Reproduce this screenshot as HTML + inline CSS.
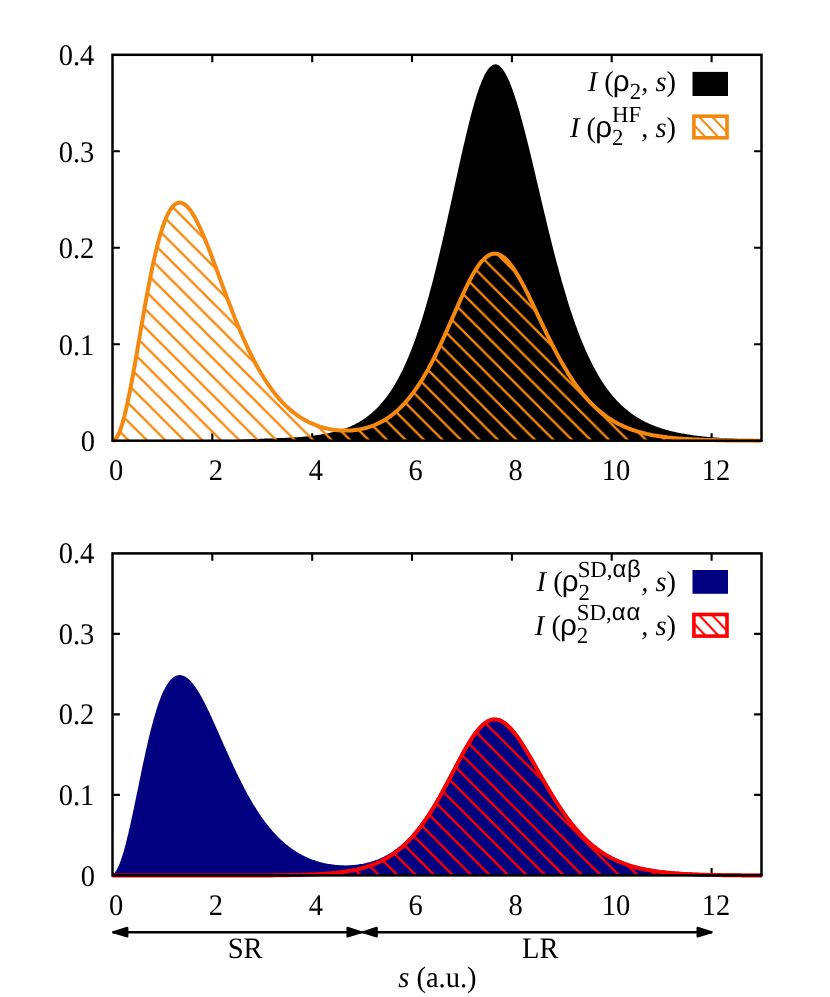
<!DOCTYPE html>
<html><head><meta charset="utf-8"><title>chart</title>
<style>
html,body{margin:0;padding:0;background:#fff;}
svg{display:block;will-change:transform;text-rendering:geometricPrecision;font-family:"Liberation Serif",serif;font-size:28.5px;fill:#000;}
.fr{fill:none;stroke:#000;stroke-width:2.5;stroke-linejoin:miter;}
.tk path{fill:none;stroke:#000;stroke-width:2.1;}
.it{font-style:italic;}
.sm{font-size:22.8px;}
.rho{font-family:"Liberation Sans",sans-serif;font-size:29.6px;}
.gk{font-family:"Liberation Sans",sans-serif;font-size:24px;}
</style></head><body>
<svg width="830" height="997" viewBox="0 0 830 997">
<defs>
<pattern id="ho" patternUnits="userSpaceOnUse" width="18.5" height="18.5" x="2.6" y="0">
<path d="M-5,-5 L23.5,23.5 M-5,13.5 L5,23.5 M13.5,-5 L23.5,5" stroke="#f5890f" stroke-width="2.3" fill="none"/>
</pattern>
<pattern id="hr" patternUnits="userSpaceOnUse" width="18.46" height="18.46" x="2.26" y="0">
<path d="M-5,-5 L23.46,23.46 M-5,13.46 L5,23.46 M13.46,-5 L23.46,5" stroke="#ff0000" stroke-width="2.3" fill="none"/>
</pattern>
<pattern id="lo" patternUnits="userSpaceOnUse" width="13" height="13.78" x="4.08" y="0">
<path d="M-5,-5.3 L18,19.08 M-5,8.48 L5,19.08 M8,-5.3 L18,5.3" stroke="#f5890f" stroke-width="2.1" fill="none"/>
</pattern>
<pattern id="lr" patternUnits="userSpaceOnUse" width="13" height="13.78" x="1.85" y="0">
<path d="M-5,-5.3 L18,19.08 M-5,8.48 L5,19.08 M8,-5.3 L18,5.3" stroke="#ff0000" stroke-width="2.1" fill="none"/>
</pattern>
</defs>
<rect width="830" height="997" fill="#fff"/>
<!-- top panel -->
<g class="tk"><path d="M212.3,440.7 v-7.4 M212.3,54.8 v7.4"/>
<path d="M312.2,440.7 v-7.4 M312.2,54.8 v7.4"/>
<path d="M412.0,440.7 v-7.4 M412.0,54.8 v7.4"/>
<path d="M511.9,440.7 v-7.4 M511.9,54.8 v7.4"/>
<path d="M611.7,440.7 v-7.4 M611.7,54.8 v7.4"/>
<path d="M711.6,440.7 v-7.4 M711.6,54.8 v7.4"/>
<path d="M112.5,344.2 h7.4 M761.5,344.2 h-7.4"/>
<path d="M112.5,247.8 h7.4 M761.5,247.8 h-7.4"/>
<path d="M112.5,151.3 h7.4 M761.5,151.3 h-7.4"/></g>
<path d="M112.5,440.8 L113.7,440.8 L115.0,440.8 L116.2,440.8 L117.5,440.8 L118.7,440.8 L120.0,440.8 L121.2,440.8 L122.5,440.8 L123.7,440.8 L125.0,440.8 L126.2,440.8 L127.5,440.8 L128.7,440.8 L130.0,440.8 L131.2,440.8 L132.5,440.8 L133.7,440.8 L135.0,440.8 L136.2,440.8 L137.5,440.8 L138.7,440.8 L140.0,440.8 L141.2,440.8 L142.5,440.8 L143.7,440.8 L144.9,440.8 L146.2,440.8 L147.4,440.8 L148.7,440.8 L149.9,440.8 L151.2,440.8 L152.4,440.8 L153.7,440.8 L154.9,440.8 L156.2,440.8 L157.4,440.8 L158.7,440.8 L159.9,440.8 L161.2,440.8 L162.4,440.8 L163.7,440.8 L164.9,440.8 L166.2,440.8 L167.4,440.8 L168.7,440.8 L169.9,440.8 L171.2,440.8 L172.4,440.8 L173.7,440.8 L174.9,440.8 L176.2,440.8 L177.4,440.8 L178.6,440.8 L179.9,440.8 L181.1,440.8 L182.4,440.8 L183.6,440.8 L184.9,440.7 L186.1,440.7 L187.4,440.7 L188.6,440.7 L189.9,440.7 L191.1,440.7 L192.4,440.7 L193.6,440.7 L194.9,440.7 L196.1,440.7 L197.4,440.7 L198.6,440.7 L199.9,440.7 L201.1,440.7 L202.4,440.7 L203.6,440.7 L204.9,440.7 L206.1,440.7 L207.4,440.7 L208.6,440.7 L209.9,440.7 L211.1,440.7 L212.3,440.7 L213.6,440.7 L214.8,440.7 L216.1,440.6 L217.3,440.6 L218.6,440.6 L219.8,440.6 L221.1,440.5 L222.3,440.5 L223.6,440.5 L224.8,440.4 L226.1,440.4 L227.3,440.4 L228.6,440.3 L229.8,440.3 L231.1,440.2 L232.3,440.2 L233.6,440.1 L234.8,440.1 L236.1,440.0 L237.3,439.9 L238.6,439.9 L239.8,439.8 L241.1,439.8 L242.3,439.7 L243.5,439.6 L244.8,439.6 L246.0,439.5 L247.3,439.4 L248.5,439.4 L249.8,439.3 L251.0,439.3 L252.3,439.2 L253.5,439.1 L254.8,439.1 L256.0,439.0 L257.3,439.0 L258.5,438.9 L259.8,438.8 L261.0,438.8 L262.3,438.7 L263.5,438.7 L264.8,438.6 L266.0,438.6 L267.3,438.5 L268.5,438.5 L269.8,438.4 L271.0,438.4 L272.3,438.4 L273.5,438.3 L274.8,438.3 L276.0,438.2 L277.2,438.2 L278.5,438.1 L279.7,438.1 L281.0,438.1 L282.2,438.0 L283.5,437.9 L284.7,437.9 L286.0,437.8 L287.2,437.8 L288.5,437.7 L289.7,437.6 L291.0,437.6 L292.2,437.5 L293.5,437.4 L294.7,437.3 L296.0,437.3 L297.2,437.2 L298.5,437.1 L299.7,437.0 L301.0,436.9 L302.2,436.8 L303.5,436.7 L304.7,436.6 L306.0,436.4 L307.2,436.3 L308.4,436.2 L309.7,436.1 L310.9,435.9 L312.2,435.8 L313.4,435.6 L314.7,435.5 L315.9,435.3 L317.2,435.1 L318.4,434.9 L319.7,434.7 L320.9,434.5 L322.2,434.3 L323.4,434.1 L324.7,433.9 L325.9,433.7 L327.2,433.4 L328.4,433.2 L329.7,432.9 L330.9,432.6 L332.2,432.3 L333.4,432.0 L334.7,431.7 L335.9,431.4 L337.2,431.1 L338.4,430.7 L339.6,430.3 L340.9,429.9 L342.1,429.5 L343.4,429.1 L344.6,428.7 L345.9,428.2 L347.1,427.7 L348.4,427.2 L349.6,426.7 L350.9,426.2 L352.1,425.6 L353.4,425.0 L354.6,424.4 L355.9,423.8 L357.1,423.1 L358.4,422.4 L359.6,421.7 L360.9,421.0 L362.1,420.2 L363.4,419.4 L364.6,418.5 L365.9,417.7 L367.1,416.7 L368.4,415.8 L369.6,414.8 L370.9,413.8 L372.1,412.7 L373.3,411.6 L374.6,410.5 L375.8,409.3 L377.1,408.0 L378.3,406.7 L379.6,405.4 L380.8,404.0 L382.1,402.6 L383.3,401.1 L384.6,399.5 L385.8,397.9 L387.1,396.2 L388.3,394.5 L389.6,392.7 L390.8,390.9 L392.1,389.0 L393.3,387.0 L394.6,384.9 L395.8,382.8 L397.1,380.6 L398.3,378.3 L399.6,376.0 L400.8,373.6 L402.1,371.1 L403.3,368.5 L404.6,365.8 L405.8,363.1 L407.0,360.2 L408.3,357.3 L409.5,354.3 L410.8,351.2 L412.0,348.0 L413.3,344.7 L414.5,341.3 L415.8,337.9 L417.0,334.3 L418.3,330.6 L419.5,326.9 L420.8,323.0 L422.0,319.0 L423.3,315.0 L424.5,310.8 L425.8,306.6 L427.0,302.2 L428.3,297.8 L429.5,293.2 L430.8,288.6 L432.0,283.9 L433.3,279.0 L434.5,274.1 L435.8,269.1 L437.0,264.0 L438.2,258.9 L439.5,253.6 L440.7,248.3 L442.0,243.0 L443.2,237.5 L444.5,232.0 L445.7,226.5 L447.0,220.9 L448.2,215.2 L449.5,209.6 L450.7,203.9 L452.0,198.2 L453.2,192.4 L454.5,186.7 L455.7,181.0 L457.0,175.3 L458.2,169.6 L459.5,163.9 L460.7,158.3 L462.0,152.8 L463.2,147.3 L464.5,141.9 L465.7,136.6 L467.0,131.3 L468.2,126.2 L469.4,121.3 L470.7,116.4 L471.9,111.7 L473.2,107.2 L474.4,102.8 L475.7,98.6 L476.9,94.6 L478.2,90.8 L479.4,87.2 L480.7,83.9 L481.9,80.8 L483.2,77.9 L484.4,75.3 L485.7,73.0 L486.9,70.9 L488.2,69.1 L489.4,67.6 L490.7,66.4 L491.9,65.4 L493.2,64.8 L494.4,64.4 L495.7,64.3 L496.9,64.6 L498.2,65.1 L499.4,65.8 L500.7,66.9 L501.9,68.3 L503.1,69.9 L504.4,71.7 L505.6,73.9 L506.9,76.2 L508.1,78.8 L509.4,81.6 L510.6,84.7 L511.9,87.9 L513.1,91.4 L514.4,95.0 L515.6,98.9 L516.9,102.8 L518.1,107.0 L519.4,111.3 L520.6,115.7 L521.9,120.2 L523.1,124.9 L524.4,129.7 L525.6,134.5 L526.9,139.5 L528.1,144.5 L529.4,149.6 L530.6,154.7 L531.9,159.9 L533.1,165.2 L534.4,170.4 L535.6,175.7 L536.8,181.0 L538.1,186.3 L539.3,191.6 L540.6,197.0 L541.8,202.3 L543.1,207.5 L544.3,212.8 L545.6,218.0 L546.8,223.2 L548.1,228.4 L549.3,233.5 L550.6,238.5 L551.8,243.5 L553.1,248.5 L554.3,253.4 L555.6,258.2 L556.8,262.9 L558.1,267.6 L559.3,272.2 L560.6,276.7 L561.8,281.2 L563.1,285.5 L564.3,289.8 L565.6,294.0 L566.8,298.2 L568.0,302.2 L569.3,306.2 L570.5,310.0 L571.8,313.8 L573.0,317.5 L574.3,321.1 L575.5,324.7 L576.8,328.1 L578.0,331.5 L579.3,334.8 L580.5,338.0 L581.8,341.1 L583.0,344.1 L584.3,347.1 L585.5,350.0 L586.8,352.8 L588.0,355.5 L589.3,358.1 L590.5,360.7 L591.8,363.2 L593.0,365.7 L594.3,368.0 L595.5,370.3 L596.8,372.6 L598.0,374.7 L599.2,376.8 L600.5,378.9 L601.7,380.9 L603.0,382.8 L604.2,384.7 L605.5,386.5 L606.7,388.2 L608.0,389.9 L609.2,391.6 L610.5,393.2 L611.7,394.7 L613.0,396.2 L614.2,397.6 L615.5,399.0 L616.7,400.4 L618.0,401.7 L619.2,403.0 L620.5,404.2 L621.7,405.4 L623.0,406.6 L624.2,407.7 L625.5,408.8 L626.7,409.8 L628.0,410.8 L629.2,411.8 L630.5,412.7 L631.7,413.7 L632.9,414.5 L634.2,415.4 L635.4,416.2 L636.7,417.0 L637.9,417.8 L639.2,418.5 L640.4,419.3 L641.7,420.0 L642.9,420.6 L644.2,421.3 L645.4,421.9 L646.7,422.5 L647.9,423.1 L649.2,423.7 L650.4,424.2 L651.7,424.8 L652.9,425.3 L654.2,425.8 L655.4,426.3 L656.7,426.7 L657.9,427.2 L659.2,427.6 L660.4,428.0 L661.7,428.4 L662.9,428.8 L664.1,429.2 L665.4,429.6 L666.6,429.9 L667.9,430.3 L669.1,430.6 L670.4,430.9 L671.6,431.2 L672.9,431.5 L674.1,431.8 L675.4,432.1 L676.6,432.4 L677.9,432.6 L679.1,432.9 L680.4,433.1 L681.6,433.4 L682.9,433.6 L684.1,433.8 L685.4,434.0 L686.6,434.3 L687.9,434.5 L689.1,434.6 L690.4,434.8 L691.6,435.0 L692.9,435.2 L694.1,435.4 L695.4,435.5 L696.6,435.7 L697.8,435.8 L699.1,436.0 L700.3,436.1 L701.6,436.3 L702.8,436.4 L704.1,436.5 L705.3,436.7 L706.6,436.8 L707.8,436.9 L709.1,437.0 L710.3,437.1 L711.6,437.2 L712.8,437.3 L714.1,437.4 L715.3,437.5 L716.6,437.6 L717.8,437.7 L719.1,437.8 L720.3,437.9 L721.6,438.0 L722.8,438.1 L724.1,438.2 L725.3,438.2 L726.6,438.3 L727.8,438.4 L729.1,438.4 L730.3,438.5 L731.5,438.6 L732.8,438.6 L734.0,438.7 L735.3,438.8 L736.5,438.8 L737.8,438.9 L739.0,438.9 L740.3,439.0 L741.5,439.0 L742.8,439.1 L744.0,439.1 L745.3,439.2 L746.5,439.2 L747.8,439.3 L749.0,439.3 L750.3,439.3 L751.5,439.4 L752.8,439.4 L754.0,439.5 L755.3,439.5 L756.5,439.5 L757.8,439.6 L759.0,439.6 L760.3,439.6 L761.5,439.7 L761.5,440.8 L112.5,440.8 Z" fill="#000" stroke="none"/>
<path d="M112.5,440.8 L113.7,440.5 L115.0,439.7 L116.2,438.2 L117.5,436.2 L118.7,433.7 L120.0,430.7 L121.2,427.1 L122.5,423.1 L123.7,418.7 L125.0,413.8 L126.2,408.5 L127.5,402.9 L128.7,396.9 L130.0,390.7 L131.2,384.2 L132.5,377.5 L133.7,370.6 L135.0,363.6 L136.2,356.4 L137.5,349.2 L138.7,342.0 L140.0,334.7 L141.2,327.4 L142.5,320.2 L143.7,313.0 L144.9,306.0 L146.2,299.1 L147.4,292.3 L148.7,285.6 L149.9,279.2 L151.2,273.0 L152.4,266.9 L153.7,261.1 L154.9,255.6 L156.2,250.3 L157.4,245.2 L158.7,240.5 L159.9,236.0 L161.2,231.8 L162.4,227.8 L163.7,224.2 L164.9,220.9 L166.2,217.8 L167.4,215.0 L168.7,212.6 L169.9,210.4 L171.2,208.5 L172.4,206.8 L173.7,205.5 L174.9,204.4 L176.2,203.6 L177.4,203.0 L178.6,202.7 L179.9,202.6 L181.1,202.8 L182.4,203.2 L183.6,203.8 L184.9,204.6 L186.1,205.6 L187.4,206.8 L188.6,208.2 L189.9,209.7 L191.1,211.5 L192.4,213.4 L193.6,215.4 L194.9,217.6 L196.1,219.9 L197.4,222.3 L198.6,224.8 L199.9,227.5 L201.1,230.2 L202.4,233.1 L203.6,236.0 L204.9,239.0 L206.1,242.0 L207.4,245.2 L208.6,248.3 L209.9,251.6 L211.1,254.8 L212.3,258.1 L213.6,261.4 L214.8,264.8 L216.1,268.2 L217.3,271.5 L218.6,274.9 L219.8,278.3 L221.1,281.7 L222.3,285.1 L223.6,288.5 L224.8,291.8 L226.1,295.2 L227.3,298.5 L228.6,301.8 L229.8,305.1 L231.1,308.3 L232.3,311.5 L233.6,314.7 L234.8,317.9 L236.1,321.0 L237.3,324.0 L238.6,327.0 L239.8,330.0 L241.1,333.0 L242.3,335.8 L243.5,338.7 L244.8,341.5 L246.0,344.2 L247.3,346.9 L248.5,349.6 L249.8,352.2 L251.0,354.7 L252.3,357.2 L253.5,359.6 L254.8,362.0 L256.0,364.4 L257.3,366.7 L258.5,368.9 L259.8,371.1 L261.0,373.2 L262.3,375.3 L263.5,377.3 L264.8,379.3 L266.0,381.2 L267.3,383.1 L268.5,385.0 L269.8,386.7 L271.0,388.5 L272.3,390.2 L273.5,391.8 L274.8,393.4 L276.0,395.0 L277.2,396.5 L278.5,397.9 L279.7,399.4 L281.0,400.7 L282.2,402.1 L283.5,403.4 L284.7,404.6 L286.0,405.9 L287.2,407.0 L288.5,408.2 L289.7,409.3 L291.0,410.4 L292.2,411.4 L293.5,412.4 L294.7,413.4 L296.0,414.3 L297.2,415.2 L298.5,416.1 L299.7,416.9 L301.0,417.7 L302.2,418.5 L303.5,419.2 L304.7,420.0 L306.0,420.6 L307.2,421.3 L308.4,421.9 L309.7,422.6 L310.9,423.1 L312.2,423.7 L313.4,424.2 L314.7,424.7 L315.9,425.2 L317.2,425.7 L318.4,426.1 L319.7,426.6 L320.9,427.0 L322.2,427.3 L323.4,427.7 L324.7,428.0 L325.9,428.3 L327.2,428.6 L328.4,428.9 L329.7,429.1 L330.9,429.4 L332.2,429.6 L333.4,429.8 L334.7,429.9 L335.9,430.1 L337.2,430.2 L338.4,430.3 L339.6,430.4 L340.9,430.5 L342.1,430.6 L343.4,430.6 L344.6,430.6 L345.9,430.6 L347.1,430.6 L348.4,430.6 L349.6,430.5 L350.9,430.4 L352.1,430.4 L353.4,430.2 L354.6,430.1 L355.9,430.0 L357.1,429.8 L358.4,429.6 L359.6,429.4 L360.9,429.1 L362.1,428.9 L363.4,428.6 L364.6,428.3 L365.9,428.0 L367.1,427.6 L368.4,427.2 L369.6,426.8 L370.9,426.4 L372.1,426.0 L373.3,425.5 L374.6,425.0 L375.8,424.5 L377.1,423.9 L378.3,423.3 L379.6,422.7 L380.8,422.1 L382.1,421.4 L383.3,420.7 L384.6,420.0 L385.8,419.2 L387.1,418.4 L388.3,417.6 L389.6,416.7 L390.8,415.8 L392.1,414.9 L393.3,413.9 L394.6,412.9 L395.8,411.8 L397.1,410.7 L398.3,409.6 L399.6,408.4 L400.8,407.2 L402.1,406.0 L403.3,404.7 L404.6,403.3 L405.8,401.9 L407.0,400.5 L408.3,399.0 L409.5,397.5 L410.8,395.9 L412.0,394.3 L413.3,392.7 L414.5,390.9 L415.8,389.2 L417.0,387.4 L418.3,385.5 L419.5,383.6 L420.8,381.7 L422.0,379.7 L423.3,377.6 L424.5,375.5 L425.8,373.4 L427.0,371.2 L428.3,368.9 L429.5,366.6 L430.8,364.3 L432.0,361.9 L433.3,359.5 L434.5,357.0 L435.8,354.5 L437.0,351.9 L438.2,349.3 L439.5,346.7 L440.7,344.0 L442.0,341.4 L443.2,338.6 L444.5,335.9 L445.7,333.1 L447.0,330.3 L448.2,327.5 L449.5,324.7 L450.7,321.8 L452.0,319.0 L453.2,316.1 L454.5,313.2 L455.7,310.4 L457.0,307.6 L458.2,304.7 L459.5,301.9 L460.7,299.1 L462.0,296.4 L463.2,293.7 L464.5,291.0 L465.7,288.4 L467.0,285.8 L468.2,283.3 L469.4,280.8 L470.7,278.5 L471.9,276.1 L473.2,273.9 L474.4,271.8 L475.7,269.7 L476.9,267.8 L478.2,266.0 L479.4,264.2 L480.7,262.6 L481.9,261.1 L483.2,259.8 L484.4,258.6 L485.7,257.5 L486.9,256.5 L488.2,255.7 L489.4,255.0 L490.7,254.4 L491.9,254.0 L493.2,253.8 L494.4,253.7 L495.7,253.7 L496.9,253.9 L498.2,254.2 L499.4,254.7 L500.7,255.3 L501.9,256.0 L503.1,256.8 L504.4,257.8 L505.6,258.9 L506.9,260.2 L508.1,261.5 L509.4,263.0 L510.6,264.6 L511.9,266.2 L513.1,268.0 L514.4,269.8 L515.6,271.8 L516.9,273.8 L518.1,275.9 L519.4,278.0 L520.6,280.3 L521.9,282.6 L523.1,284.9 L524.4,287.3 L525.6,289.7 L526.9,292.2 L528.1,294.7 L529.4,297.3 L530.6,299.8 L531.9,302.4 L533.1,305.0 L534.4,307.7 L535.6,310.3 L536.8,312.9 L538.1,315.6 L539.3,318.2 L540.6,320.8 L541.8,323.5 L543.1,326.1 L544.3,328.7 L545.6,331.3 L546.8,333.9 L548.1,336.4 L549.3,338.9 L550.6,341.4 L551.8,343.9 L553.1,346.4 L554.3,348.8 L555.6,351.2 L556.8,353.5 L558.1,355.9 L559.3,358.1 L560.6,360.4 L561.8,362.6 L563.1,364.8 L564.3,366.9 L565.6,369.0 L566.8,371.1 L568.0,373.1 L569.3,375.1 L570.5,377.0 L571.8,378.9 L573.0,380.8 L574.3,382.6 L575.5,384.4 L576.8,386.1 L578.0,387.8 L579.3,389.5 L580.5,391.1 L581.8,392.7 L583.0,394.2 L584.3,395.7 L585.5,397.2 L586.8,398.6 L588.0,400.0 L589.3,401.3 L590.5,402.7 L591.8,403.9 L593.0,405.2 L594.3,406.4 L595.5,407.6 L596.8,408.7 L598.0,409.8 L599.2,410.9 L600.5,411.9 L601.7,412.9 L603.0,413.9 L604.2,414.9 L605.5,415.8 L606.7,416.7 L608.0,417.6 L609.2,418.4 L610.5,419.2 L611.7,420.0 L613.0,420.8 L614.2,421.5 L615.5,422.2 L616.7,422.9 L618.0,423.6 L619.2,424.2 L620.5,424.8 L621.7,425.4 L623.0,426.0 L624.2,426.6 L625.5,427.1 L626.7,427.6 L628.0,428.1 L629.2,428.6 L630.5,429.1 L631.7,429.6 L632.9,430.0 L634.2,430.4 L635.4,430.8 L636.7,431.2 L637.9,431.6 L639.2,432.0 L640.4,432.3 L641.7,432.6 L642.9,433.0 L644.2,433.3 L645.4,433.6 L646.7,433.9 L647.9,434.1 L649.2,434.4 L650.4,434.7 L651.7,434.9 L652.9,435.2 L654.2,435.4 L655.4,435.6 L656.7,435.8 L657.9,436.0 L659.2,436.2 L660.4,436.4 L661.7,436.6 L662.9,436.8 L664.1,436.9 L665.4,437.1 L666.6,437.3 L667.9,437.4 L669.1,437.6 L670.4,437.7 L671.6,437.8 L672.9,437.9 L674.1,438.1 L675.4,438.2 L676.6,438.3 L677.9,438.4 L679.1,438.5 L680.4,438.6 L681.6,438.7 L682.9,438.8 L684.1,438.9 L685.4,439.0 L686.6,439.0 L687.9,439.1 L689.1,439.2 L690.4,439.3 L691.6,439.3 L692.9,439.4 L694.1,439.5 L695.4,439.5 L696.6,439.6 L697.8,439.6 L699.1,439.7 L700.3,439.7 L701.6,439.8 L702.8,439.8 L704.1,439.9 L705.3,439.9 L706.6,439.9 L707.8,440.0 L709.1,440.0 L710.3,440.1 L711.6,440.1 L712.8,440.1 L714.1,440.1 L715.3,440.2 L716.6,440.2 L717.8,440.2 L719.1,440.3 L720.3,440.3 L721.6,440.3 L722.8,440.3 L724.1,440.3 L725.3,440.4 L726.6,440.4 L727.8,440.4 L729.1,440.4 L730.3,440.4 L731.5,440.5 L732.8,440.5 L734.0,440.5 L735.3,440.5 L736.5,440.5 L737.8,440.5 L739.0,440.5 L740.3,440.6 L741.5,440.6 L742.8,440.6 L744.0,440.6 L745.3,440.6 L746.5,440.6 L747.8,440.6 L749.0,440.6 L750.3,440.6 L751.5,440.6 L752.8,440.6 L754.0,440.7 L755.3,440.7 L756.5,440.7 L757.8,440.7 L759.0,440.7 L760.3,440.7 L761.5,440.7 L761.5,440.8 L112.5,440.8 Z" fill="url(#ho)" stroke="none"/>
<path d="M112.5,440.8 L113.7,440.5 L115.0,439.7 L116.2,438.2 L117.5,436.2 L118.7,433.7 L120.0,430.7 L121.2,427.1 L122.5,423.1 L123.7,418.7 L125.0,413.8 L126.2,408.5 L127.5,402.9 L128.7,396.9 L130.0,390.7 L131.2,384.2 L132.5,377.5 L133.7,370.6 L135.0,363.6 L136.2,356.4 L137.5,349.2 L138.7,342.0 L140.0,334.7 L141.2,327.4 L142.5,320.2 L143.7,313.0 L144.9,306.0 L146.2,299.1 L147.4,292.3 L148.7,285.6 L149.9,279.2 L151.2,273.0 L152.4,266.9 L153.7,261.1 L154.9,255.6 L156.2,250.3 L157.4,245.2 L158.7,240.5 L159.9,236.0 L161.2,231.8 L162.4,227.8 L163.7,224.2 L164.9,220.9 L166.2,217.8 L167.4,215.0 L168.7,212.6 L169.9,210.4 L171.2,208.5 L172.4,206.8 L173.7,205.5 L174.9,204.4 L176.2,203.6 L177.4,203.0 L178.6,202.7 L179.9,202.6 L181.1,202.8 L182.4,203.2 L183.6,203.8 L184.9,204.6 L186.1,205.6 L187.4,206.8 L188.6,208.2 L189.9,209.7 L191.1,211.5 L192.4,213.4 L193.6,215.4 L194.9,217.6 L196.1,219.9 L197.4,222.3 L198.6,224.8 L199.9,227.5 L201.1,230.2 L202.4,233.1 L203.6,236.0 L204.9,239.0 L206.1,242.0 L207.4,245.2 L208.6,248.3 L209.9,251.6 L211.1,254.8 L212.3,258.1 L213.6,261.4 L214.8,264.8 L216.1,268.2 L217.3,271.5 L218.6,274.9 L219.8,278.3 L221.1,281.7 L222.3,285.1 L223.6,288.5 L224.8,291.8 L226.1,295.2 L227.3,298.5 L228.6,301.8 L229.8,305.1 L231.1,308.3 L232.3,311.5 L233.6,314.7 L234.8,317.9 L236.1,321.0 L237.3,324.0 L238.6,327.0 L239.8,330.0 L241.1,333.0 L242.3,335.8 L243.5,338.7 L244.8,341.5 L246.0,344.2 L247.3,346.9 L248.5,349.6 L249.8,352.2 L251.0,354.7 L252.3,357.2 L253.5,359.6 L254.8,362.0 L256.0,364.4 L257.3,366.7 L258.5,368.9 L259.8,371.1 L261.0,373.2 L262.3,375.3 L263.5,377.3 L264.8,379.3 L266.0,381.2 L267.3,383.1 L268.5,385.0 L269.8,386.7 L271.0,388.5 L272.3,390.2 L273.5,391.8 L274.8,393.4 L276.0,395.0 L277.2,396.5 L278.5,397.9 L279.7,399.4 L281.0,400.7 L282.2,402.1 L283.5,403.4 L284.7,404.6 L286.0,405.9 L287.2,407.0 L288.5,408.2 L289.7,409.3 L291.0,410.4 L292.2,411.4 L293.5,412.4 L294.7,413.4 L296.0,414.3 L297.2,415.2 L298.5,416.1 L299.7,416.9 L301.0,417.7 L302.2,418.5 L303.5,419.2 L304.7,420.0 L306.0,420.6 L307.2,421.3 L308.4,421.9 L309.7,422.6 L310.9,423.1 L312.2,423.7 L313.4,424.2 L314.7,424.7 L315.9,425.2 L317.2,425.7 L318.4,426.1 L319.7,426.6 L320.9,427.0 L322.2,427.3 L323.4,427.7 L324.7,428.0 L325.9,428.3 L327.2,428.6 L328.4,428.9 L329.7,429.1 L330.9,429.4 L332.2,429.6 L333.4,429.8 L334.7,429.9 L335.9,430.1 L337.2,430.2 L338.4,430.3 L339.6,430.4 L340.9,430.5 L342.1,430.6 L343.4,430.6 L344.6,430.6 L345.9,430.6 L347.1,430.6 L348.4,430.6 L349.6,430.5 L350.9,430.4 L352.1,430.4 L353.4,430.2 L354.6,430.1 L355.9,430.0 L357.1,429.8 L358.4,429.6 L359.6,429.4 L360.9,429.1 L362.1,428.9 L363.4,428.6 L364.6,428.3 L365.9,428.0 L367.1,427.6 L368.4,427.2 L369.6,426.8 L370.9,426.4 L372.1,426.0 L373.3,425.5 L374.6,425.0 L375.8,424.5 L377.1,423.9 L378.3,423.3 L379.6,422.7 L380.8,422.1 L382.1,421.4 L383.3,420.7 L384.6,420.0 L385.8,419.2 L387.1,418.4 L388.3,417.6 L389.6,416.7 L390.8,415.8 L392.1,414.9 L393.3,413.9 L394.6,412.9 L395.8,411.8 L397.1,410.7 L398.3,409.6 L399.6,408.4 L400.8,407.2 L402.1,406.0 L403.3,404.7 L404.6,403.3 L405.8,401.9 L407.0,400.5 L408.3,399.0 L409.5,397.5 L410.8,395.9 L412.0,394.3 L413.3,392.7 L414.5,390.9 L415.8,389.2 L417.0,387.4 L418.3,385.5 L419.5,383.6 L420.8,381.7 L422.0,379.7 L423.3,377.6 L424.5,375.5 L425.8,373.4 L427.0,371.2 L428.3,368.9 L429.5,366.6 L430.8,364.3 L432.0,361.9 L433.3,359.5 L434.5,357.0 L435.8,354.5 L437.0,351.9 L438.2,349.3 L439.5,346.7 L440.7,344.0 L442.0,341.4 L443.2,338.6 L444.5,335.9 L445.7,333.1 L447.0,330.3 L448.2,327.5 L449.5,324.7 L450.7,321.8 L452.0,319.0 L453.2,316.1 L454.5,313.2 L455.7,310.4 L457.0,307.6 L458.2,304.7 L459.5,301.9 L460.7,299.1 L462.0,296.4 L463.2,293.7 L464.5,291.0 L465.7,288.4 L467.0,285.8 L468.2,283.3 L469.4,280.8 L470.7,278.5 L471.9,276.1 L473.2,273.9 L474.4,271.8 L475.7,269.7 L476.9,267.8 L478.2,266.0 L479.4,264.2 L480.7,262.6 L481.9,261.1 L483.2,259.8 L484.4,258.6 L485.7,257.5 L486.9,256.5 L488.2,255.7 L489.4,255.0 L490.7,254.4 L491.9,254.0 L493.2,253.8 L494.4,253.7 L495.7,253.7 L496.9,253.9 L498.2,254.2 L499.4,254.7 L500.7,255.3 L501.9,256.0 L503.1,256.8 L504.4,257.8 L505.6,258.9 L506.9,260.2 L508.1,261.5 L509.4,263.0 L510.6,264.6 L511.9,266.2 L513.1,268.0 L514.4,269.8 L515.6,271.8 L516.9,273.8 L518.1,275.9 L519.4,278.0 L520.6,280.3 L521.9,282.6 L523.1,284.9 L524.4,287.3 L525.6,289.7 L526.9,292.2 L528.1,294.7 L529.4,297.3 L530.6,299.8 L531.9,302.4 L533.1,305.0 L534.4,307.7 L535.6,310.3 L536.8,312.9 L538.1,315.6 L539.3,318.2 L540.6,320.8 L541.8,323.5 L543.1,326.1 L544.3,328.7 L545.6,331.3 L546.8,333.9 L548.1,336.4 L549.3,338.9 L550.6,341.4 L551.8,343.9 L553.1,346.4 L554.3,348.8 L555.6,351.2 L556.8,353.5 L558.1,355.9 L559.3,358.1 L560.6,360.4 L561.8,362.6 L563.1,364.8 L564.3,366.9 L565.6,369.0 L566.8,371.1 L568.0,373.1 L569.3,375.1 L570.5,377.0 L571.8,378.9 L573.0,380.8 L574.3,382.6 L575.5,384.4 L576.8,386.1 L578.0,387.8 L579.3,389.5 L580.5,391.1 L581.8,392.7 L583.0,394.2 L584.3,395.7 L585.5,397.2 L586.8,398.6 L588.0,400.0 L589.3,401.3 L590.5,402.7 L591.8,403.9 L593.0,405.2 L594.3,406.4 L595.5,407.6 L596.8,408.7 L598.0,409.8 L599.2,410.9 L600.5,411.9 L601.7,412.9 L603.0,413.9 L604.2,414.9 L605.5,415.8 L606.7,416.7 L608.0,417.6 L609.2,418.4 L610.5,419.2 L611.7,420.0 L613.0,420.8 L614.2,421.5 L615.5,422.2 L616.7,422.9 L618.0,423.6 L619.2,424.2 L620.5,424.8 L621.7,425.4 L623.0,426.0 L624.2,426.6 L625.5,427.1 L626.7,427.6 L628.0,428.1 L629.2,428.6 L630.5,429.1 L631.7,429.6 L632.9,430.0 L634.2,430.4 L635.4,430.8 L636.7,431.2 L637.9,431.6 L639.2,432.0 L640.4,432.3 L641.7,432.6 L642.9,433.0 L644.2,433.3 L645.4,433.6 L646.7,433.9 L647.9,434.1 L649.2,434.4 L650.4,434.7 L651.7,434.9 L652.9,435.2 L654.2,435.4 L655.4,435.6 L656.7,435.8 L657.9,436.0 L659.2,436.2 L660.4,436.4 L661.7,436.6 L662.9,436.8 L664.1,436.9 L665.4,437.1 L666.6,437.3 L667.9,437.4 L669.1,437.6 L670.4,437.7 L671.6,437.8 L672.9,437.9 L674.1,438.1 L675.4,438.2 L676.6,438.3 L677.9,438.4 L679.1,438.5 L680.4,438.6 L681.6,438.7 L682.9,438.8 L684.1,438.9 L685.4,439.0 L686.6,439.0 L687.9,439.1 L689.1,439.2 L690.4,439.3 L691.6,439.3 L692.9,439.4 L694.1,439.5 L695.4,439.5 L696.6,439.6 L697.8,439.6 L699.1,439.7 L700.3,439.7 L701.6,439.8 L702.8,439.8 L704.1,439.9 L705.3,439.9 L706.6,439.9 L707.8,440.0 L709.1,440.0 L710.3,440.1 L711.6,440.1 L712.8,440.1 L714.1,440.1 L715.3,440.2 L716.6,440.2 L717.8,440.2 L719.1,440.3 L720.3,440.3 L721.6,440.3 L722.8,440.3 L724.1,440.3 L725.3,440.4 L726.6,440.4 L727.8,440.4 L729.1,440.4 L730.3,440.4 L731.5,440.5 L732.8,440.5 L734.0,440.5 L735.3,440.5 L736.5,440.5 L737.8,440.5 L739.0,440.5 L740.3,440.6 L741.5,440.6 L742.8,440.6 L744.0,440.6 L745.3,440.6 L746.5,440.6 L747.8,440.6 L749.0,440.6 L750.3,440.6 L751.5,440.6 L752.8,440.6 L754.0,440.7 L755.3,440.7 L756.5,440.7 L757.8,440.7 L759.0,440.7 L760.3,440.7 L761.5,440.7" fill="none" stroke="#f5890f" stroke-width="4" stroke-linejoin="round"/>
<rect class="fr" x="112.5" y="54.8" width="649.0" height="385.9"/>
<text transform="translate(116.1,480.2) scale(1,1.05)" text-anchor="middle">0</text>
<text transform="translate(215.9,480.2) scale(1,1.05)" text-anchor="middle">2</text>
<text transform="translate(315.8,480.2) scale(1,1.05)" text-anchor="middle">4</text>
<text transform="translate(415.6,480.2) scale(1,1.05)" text-anchor="middle">6</text>
<text transform="translate(515.5,480.2) scale(1,1.05)" text-anchor="middle">8</text>
<text transform="translate(616.1,480.2) scale(1,1.05)" text-anchor="middle">10</text>
<text transform="translate(716.0,480.2) scale(1,1.05)" text-anchor="middle">12</text>
<text transform="translate(95.0,451) scale(1,1.05)" text-anchor="end">0</text>
<text transform="translate(94.3,355) scale(1,1.05)" text-anchor="end">0.1</text>
<text transform="translate(94.3,258) scale(1,1.05)" text-anchor="end">0.2</text>
<text transform="translate(94.3,162) scale(1,1.05)" text-anchor="end">0.3</text>
<text transform="translate(94.3,65) scale(1,1.05)" text-anchor="end">0.4</text>
<!-- legend top -->
<rect x="692.5" y="71.9" width="35.5" height="24.1" fill="#000"/>
<rect x="693.9" y="116.2" width="33.1" height="21.6" fill="url(#lo)" stroke="#f5890f" stroke-width="3.6"/>
<text transform="translate(613.8,90.8) scale(1,1.01)" text-anchor="end"><tspan class="it">I</tspan> (</text>
<text transform="translate(629.7,90.8) scale(1,1.01)" text-anchor="end" class="rho">ρ</text>
<text transform="translate(629.7,98.6) scale(1,1.01)" class="sm">2</text>
<text transform="translate(676,90.8) scale(1,1.01)" text-anchor="end">, <tspan class="it">s</tspan>)</text>
<text transform="translate(596.1,136.7) scale(1,1.01)" text-anchor="end"><tspan class="it">I</tspan> (</text>
<text transform="translate(612.0,136.7) scale(1,1.01)" text-anchor="end" class="rho">ρ</text>
<text transform="translate(612.0,144.5) scale(1,1.01)" class="sm">2</text>
<text transform="translate(641.2,121.9) scale(1,1.01)" class="sm" text-anchor="end">HF</text>
<text transform="translate(676,136.7) scale(1,1.01)" text-anchor="end">, <tspan class="it">s</tspan>)</text>
<!-- bottom panel -->
<g class="tk"><path d="M212.3,875.4 v-7.4 M212.3,553.4 v7.4"/>
<path d="M312.2,875.4 v-7.4 M312.2,553.4 v7.4"/>
<path d="M412.0,875.4 v-7.4 M412.0,553.4 v7.4"/>
<path d="M511.9,875.4 v-7.4 M511.9,553.4 v7.4"/>
<path d="M611.7,875.4 v-7.4 M611.7,553.4 v7.4"/>
<path d="M711.6,875.4 v-7.4 M711.6,553.4 v7.4"/>
<path d="M112.5,794.9 h7.4 M761.5,794.9 h-7.4"/>
<path d="M112.5,714.4 h7.4 M761.5,714.4 h-7.4"/>
<path d="M112.5,633.9 h7.4 M761.5,633.9 h-7.4"/></g>
<path d="M112.5,875.5 L113.7,875.3 L115.0,874.6 L116.2,873.4 L117.5,871.8 L118.7,869.6 L120.0,867.1 L121.2,864.2 L122.5,860.8 L123.7,857.1 L125.0,853.0 L126.2,848.6 L127.5,843.9 L128.7,838.9 L130.0,833.7 L131.2,828.3 L132.5,822.7 L133.7,817.0 L135.0,811.1 L136.2,805.2 L137.5,799.1 L138.7,793.1 L140.0,787.0 L141.2,780.9 L142.5,774.9 L143.7,768.9 L144.9,763.1 L146.2,757.3 L147.4,751.6 L148.7,746.1 L149.9,740.7 L151.2,735.5 L152.4,730.5 L153.7,725.6 L154.9,721.0 L156.2,716.6 L157.4,712.4 L158.7,708.4 L159.9,704.6 L161.2,701.1 L162.4,697.8 L163.7,694.8 L164.9,692.0 L166.2,689.5 L167.4,687.2 L168.7,685.1 L169.9,683.3 L171.2,681.7 L172.4,680.3 L173.7,679.2 L174.9,678.3 L176.2,677.6 L177.4,677.1 L178.6,676.9 L179.9,676.8 L181.1,676.9 L182.4,677.3 L183.6,677.8 L184.9,678.4 L186.1,679.3 L187.4,680.3 L188.6,681.4 L189.9,682.7 L191.1,684.2 L192.4,685.8 L193.6,687.5 L194.9,689.3 L196.1,691.2 L197.4,693.2 L198.6,695.3 L199.9,697.6 L201.1,699.8 L202.4,702.2 L203.6,704.6 L204.9,707.1 L206.1,709.7 L207.4,712.3 L208.6,715.0 L209.9,717.6 L211.1,720.4 L212.3,723.1 L213.6,725.9 L214.8,728.7 L216.1,731.5 L217.3,734.3 L218.6,737.1 L219.8,740.0 L221.1,742.8 L222.3,745.6 L223.6,748.4 L224.8,751.2 L226.1,754.0 L227.3,756.8 L228.6,759.6 L229.8,762.3 L231.1,765.0 L232.3,767.7 L233.6,770.3 L234.8,773.0 L236.1,775.6 L237.3,778.1 L238.6,780.6 L239.8,783.1 L241.1,785.6 L242.3,788.0 L243.5,790.3 L244.8,792.7 L246.0,795.0 L247.3,797.2 L248.5,799.4 L249.8,801.6 L251.0,803.7 L252.3,805.8 L253.5,807.8 L254.8,809.8 L256.0,811.8 L257.3,813.7 L258.5,815.5 L259.8,817.4 L261.0,819.2 L262.3,820.9 L263.5,822.6 L264.8,824.2 L266.0,825.8 L267.3,827.4 L268.5,828.9 L269.8,830.4 L271.0,831.9 L272.3,833.3 L273.5,834.7 L274.8,836.0 L276.0,837.3 L277.2,838.6 L278.5,839.8 L279.7,841.0 L281.0,842.1 L282.2,843.2 L283.5,844.3 L284.7,845.4 L286.0,846.4 L287.2,847.4 L288.5,848.3 L289.7,849.3 L291.0,850.2 L292.2,851.0 L293.5,851.9 L294.7,852.7 L296.0,853.4 L297.2,854.2 L298.5,854.9 L299.7,855.6 L301.0,856.3 L302.2,856.9 L303.5,857.6 L304.7,858.2 L306.0,858.7 L307.2,859.3 L308.4,859.8 L309.7,860.3 L310.9,860.8 L312.2,861.3 L313.4,861.7 L314.7,862.2 L315.9,862.6 L317.2,862.9 L318.4,863.3 L319.7,863.7 L320.9,864.0 L322.2,864.3 L323.4,864.6 L324.7,864.9 L325.9,865.1 L327.2,865.4 L328.4,865.6 L329.7,865.8 L330.9,866.0 L332.2,866.2 L333.4,866.3 L334.7,866.5 L335.9,866.6 L337.2,866.7 L338.4,866.8 L339.6,866.9 L340.9,867.0 L342.1,867.0 L343.4,867.0 L344.6,867.1 L345.9,867.1 L347.1,867.1 L348.4,867.0 L349.6,867.0 L350.9,866.9 L352.1,866.8 L353.4,866.7 L354.6,866.6 L355.9,866.5 L357.1,866.4 L358.4,866.2 L359.6,866.0 L360.9,865.8 L362.1,865.6 L363.4,865.4 L364.6,865.1 L365.9,864.8 L367.1,864.5 L368.4,864.2 L369.6,863.9 L370.9,863.6 L372.1,863.2 L373.3,862.8 L374.6,862.4 L375.8,861.9 L377.1,861.5 L378.3,861.0 L379.6,860.5 L380.8,859.9 L382.1,859.4 L383.3,858.8 L384.6,858.2 L385.8,857.5 L387.1,856.9 L388.3,856.2 L389.6,855.5 L390.8,854.7 L392.1,853.9 L393.3,853.1 L394.6,852.3 L395.8,851.4 L397.1,850.5 L398.3,849.5 L399.6,848.5 L400.8,847.5 L402.1,846.5 L403.3,845.4 L404.6,844.3 L405.8,843.1 L407.0,841.9 L408.3,840.7 L409.5,839.4 L410.8,838.1 L412.0,836.8 L413.3,835.4 L414.5,834.0 L415.8,832.5 L417.0,831.0 L418.3,829.4 L419.5,827.8 L420.8,826.2 L422.0,824.5 L423.3,822.8 L424.5,821.1 L425.8,819.3 L427.0,817.4 L428.3,815.6 L429.5,813.6 L430.8,811.7 L432.0,809.7 L433.3,807.7 L434.5,805.6 L435.8,803.5 L437.0,801.4 L438.2,799.2 L439.5,797.0 L440.7,794.8 L442.0,792.6 L443.2,790.3 L444.5,788.0 L445.7,785.7 L447.0,783.3 L448.2,781.0 L449.5,778.6 L450.7,776.3 L452.0,773.9 L453.2,771.5 L454.5,769.1 L455.7,766.7 L457.0,764.4 L458.2,762.0 L459.5,759.7 L460.7,757.4 L462.0,755.1 L463.2,752.8 L464.5,750.6 L465.7,748.4 L467.0,746.2 L468.2,744.1 L469.4,742.1 L470.7,740.1 L471.9,738.2 L473.2,736.3 L474.4,734.5 L475.7,732.8 L476.9,731.2 L478.2,729.7 L479.4,728.2 L480.7,726.9 L481.9,725.6 L483.2,724.5 L484.4,723.5 L485.7,722.6 L486.9,721.8 L488.2,721.1 L489.4,720.5 L490.7,720.0 L491.9,719.7 L493.2,719.5 L494.4,719.4 L495.7,719.4 L496.9,719.6 L498.2,719.9 L499.4,720.2 L500.7,720.7 L501.9,721.3 L503.1,722.1 L504.4,722.9 L505.6,723.8 L506.9,724.8 L508.1,726.0 L509.4,727.2 L510.6,728.5 L511.9,729.9 L513.1,731.3 L514.4,732.9 L515.6,734.5 L516.9,736.2 L518.1,737.9 L519.4,739.7 L520.6,741.6 L521.9,743.5 L523.1,745.5 L524.4,747.5 L525.6,749.5 L526.9,751.6 L528.1,753.7 L529.4,755.8 L530.6,757.9 L531.9,760.1 L533.1,762.3 L534.4,764.5 L535.6,766.7 L536.8,768.9 L538.1,771.1 L539.3,773.3 L540.6,775.5 L541.8,777.7 L543.1,779.8 L544.3,782.0 L545.6,784.2 L546.8,786.3 L548.1,788.4 L549.3,790.6 L550.6,792.6 L551.8,794.7 L553.1,796.8 L554.3,798.8 L555.6,800.8 L556.8,802.7 L558.1,804.7 L559.3,806.6 L560.6,808.5 L561.8,810.3 L563.1,812.1 L564.3,813.9 L565.6,815.7 L566.8,817.4 L568.0,819.1 L569.3,820.7 L570.5,822.3 L571.8,823.9 L573.0,825.5 L574.3,827.0 L575.5,828.5 L576.8,829.9 L578.0,831.3 L579.3,832.7 L580.5,834.1 L581.8,835.4 L583.0,836.7 L584.3,837.9 L585.5,839.2 L586.8,840.3 L588.0,841.5 L589.3,842.6 L590.5,843.7 L591.8,844.8 L593.0,845.8 L594.3,846.8 L595.5,847.8 L596.8,848.8 L598.0,849.7 L599.2,850.6 L600.5,851.5 L601.7,852.3 L603.0,853.1 L604.2,853.9 L605.5,854.7 L606.7,855.4 L608.0,856.2 L609.2,856.9 L610.5,857.5 L611.7,858.2 L613.0,858.8 L614.2,859.4 L615.5,860.0 L616.7,860.6 L618.0,861.2 L619.2,861.7 L620.5,862.2 L621.7,862.7 L623.0,863.2 L624.2,863.7 L625.5,864.1 L626.7,864.6 L628.0,865.0 L629.2,865.4 L630.5,865.8 L631.7,866.2 L632.9,866.5 L634.2,866.9 L635.4,867.2 L636.7,867.5 L637.9,867.9 L639.2,868.2 L640.4,868.5 L641.7,868.7 L642.9,869.0 L644.2,869.3 L645.4,869.5 L646.7,869.8 L647.9,870.0 L649.2,870.2 L650.4,870.4 L651.7,870.6 L652.9,870.8 L654.2,871.0 L655.4,871.2 L656.7,871.4 L657.9,871.6 L659.2,871.7 L660.4,871.9 L661.7,872.0 L662.9,872.2 L664.1,872.3 L665.4,872.5 L666.6,872.6 L667.9,872.7 L669.1,872.8 L670.4,873.0 L671.6,873.1 L672.9,873.2 L674.1,873.3 L675.4,873.4 L676.6,873.5 L677.9,873.5 L679.1,873.6 L680.4,873.7 L681.6,873.8 L682.9,873.9 L684.1,873.9 L685.4,874.0 L686.6,874.1 L687.9,874.1 L689.1,874.2 L690.4,874.3 L691.6,874.3 L692.9,874.4 L694.1,874.4 L695.4,874.5 L696.6,874.5 L697.8,874.6 L699.1,874.6 L700.3,874.7 L701.6,874.7 L702.8,874.7 L704.1,874.8 L705.3,874.8 L706.6,874.8 L707.8,874.9 L709.1,874.9 L710.3,874.9 L711.6,875.0 L712.8,875.0 L714.1,875.0 L715.3,875.0 L716.6,875.1 L717.8,875.1 L719.1,875.1 L720.3,875.1 L721.6,875.1 L722.8,875.2 L724.1,875.2 L725.3,875.2 L726.6,875.2 L727.8,875.2 L729.1,875.2 L730.3,875.3 L731.5,875.3 L732.8,875.3 L734.0,875.3 L735.3,875.3 L736.5,875.3 L737.8,875.3 L739.0,875.3 L740.3,875.3 L741.5,875.4 L742.8,875.4 L744.0,875.4 L745.3,875.4 L746.5,875.4 L747.8,875.4 L749.0,875.4 L750.3,875.4 L751.5,875.4 L752.8,875.4 L754.0,875.4 L755.3,875.4 L756.5,875.4 L757.8,875.4 L759.0,875.4 L760.3,875.5 L761.5,875.5 L761.5,875.5 L112.5,875.5 Z" fill="#000080" stroke="none"/>
<path d="M112.5,875.5 L113.7,875.3 L115.0,874.6 L116.2,873.4 L117.5,871.8 L118.7,869.6 L120.0,867.1 L121.2,864.2 L122.5,860.8 L123.7,857.1 L125.0,853.0 L126.2,848.6 L127.5,843.9 L128.7,838.9 L130.0,833.7 L131.2,828.3 L132.5,822.7 L133.7,817.0 L135.0,811.1 L136.2,805.2 L137.5,799.1 L138.7,793.1 L140.0,787.0 L141.2,780.9 L142.5,774.9 L143.7,768.9 L144.9,763.1 L146.2,757.3 L147.4,751.6 L148.7,746.1 L149.9,740.7 L151.2,735.5 L152.4,730.5 L153.7,725.6 L154.9,721.0 L156.2,716.6 L157.4,712.4 L158.7,708.4 L159.9,704.6 L161.2,701.1 L162.4,697.8 L163.7,694.8 L164.9,692.0 L166.2,689.5 L167.4,687.2 L168.7,685.1 L169.9,683.3 L171.2,681.7 L172.4,680.3 L173.7,679.2 L174.9,678.3 L176.2,677.6 L177.4,677.1 L178.6,676.9 L179.9,676.8 L181.1,676.9 L182.4,677.3 L183.6,677.8 L184.9,678.4 L186.1,679.3 L187.4,680.3 L188.6,681.4 L189.9,682.7 L191.1,684.2 L192.4,685.8 L193.6,687.5 L194.9,689.3 L196.1,691.2 L197.4,693.2 L198.6,695.3 L199.9,697.6 L201.1,699.8 L202.4,702.2 L203.6,704.6 L204.9,707.1 L206.1,709.7 L207.4,712.3 L208.6,715.0 L209.9,717.6 L211.1,720.4 L212.3,723.1 L213.6,725.9 L214.8,728.7 L216.1,731.5 L217.3,734.3 L218.6,737.1 L219.8,740.0 L221.1,742.8 L222.3,745.6 L223.6,748.4 L224.8,751.2 L226.1,754.0 L227.3,756.8 L228.6,759.6 L229.8,762.3 L231.1,765.0 L232.3,767.7 L233.6,770.3 L234.8,773.0 L236.1,775.6 L237.3,778.1 L238.6,780.6 L239.8,783.1 L241.1,785.6 L242.3,788.0 L243.5,790.3 L244.8,792.7 L246.0,795.0 L247.3,797.2 L248.5,799.4 L249.8,801.6 L251.0,803.7 L252.3,805.8 L253.5,807.8 L254.8,809.8 L256.0,811.8 L257.3,813.7 L258.5,815.5 L259.8,817.4 L261.0,819.2 L262.3,820.9 L263.5,822.6 L264.8,824.2 L266.0,825.8 L267.3,827.4 L268.5,828.9 L269.8,830.4 L271.0,831.9 L272.3,833.3 L273.5,834.7 L274.8,836.0 L276.0,837.3 L277.2,838.6 L278.5,839.8 L279.7,841.0 L281.0,842.1 L282.2,843.2 L283.5,844.3 L284.7,845.4 L286.0,846.4 L287.2,847.4 L288.5,848.3 L289.7,849.3 L291.0,850.2 L292.2,851.0 L293.5,851.9 L294.7,852.7 L296.0,853.4 L297.2,854.2 L298.5,854.9 L299.7,855.6 L301.0,856.3 L302.2,856.9 L303.5,857.6 L304.7,858.2 L306.0,858.7 L307.2,859.3 L308.4,859.8 L309.7,860.3 L310.9,860.8 L312.2,861.3 L313.4,861.7 L314.7,862.2 L315.9,862.6 L317.2,862.9 L318.4,863.3 L319.7,863.7 L320.9,864.0 L322.2,864.3 L323.4,864.6 L324.7,864.9 L325.9,865.1 L327.2,865.4 L328.4,865.6 L329.7,865.8 L330.9,866.0 L332.2,866.2 L333.4,866.3 L334.7,866.5 L335.9,866.6 L337.2,866.7 L338.4,866.8 L339.6,866.9 L340.9,867.0 L342.1,867.0 L343.4,867.0 L344.6,867.1 L345.9,867.1 L347.1,867.1 L348.4,867.0 L349.6,867.0 L350.9,866.9 L352.1,866.8 L353.4,866.7 L354.6,866.6 L355.9,866.5 L357.1,866.4 L358.4,866.2 L359.6,866.0 L360.9,865.8 L362.1,865.6 L363.4,865.4 L364.6,865.1 L365.9,864.8 L367.1,864.5 L368.4,864.2 L369.6,863.9 L370.9,863.6 L372.1,863.2 L373.3,862.8 L374.6,862.4 L375.8,861.9 L377.1,861.5 L378.3,861.0 L379.6,860.5 L380.8,859.9 L382.1,859.4 L383.3,858.8 L384.6,858.2 L385.8,857.5 L387.1,856.9 L388.3,856.2 L389.6,855.5 L390.8,854.7 L392.1,853.9 L393.3,853.1 L394.6,852.3 L395.8,851.4 L397.1,850.5 L398.3,849.5 L399.6,848.5 L400.8,847.5 L402.1,846.5 L403.3,845.4 L404.6,844.3 L405.8,843.1 L407.0,841.9 L408.3,840.7 L409.5,839.4 L410.8,838.1 L412.0,836.8 L413.3,835.4 L414.5,834.0 L415.8,832.5 L417.0,831.0 L418.3,829.4 L419.5,827.8 L420.8,826.2 L422.0,824.5 L423.3,822.8 L424.5,821.1 L425.8,819.3 L427.0,817.4 L428.3,815.6 L429.5,813.6 L430.8,811.7 L432.0,809.7 L433.3,807.7 L434.5,805.6 L435.8,803.5 L437.0,801.4 L438.2,799.2 L439.5,797.0 L440.7,794.8 L442.0,792.6 L443.2,790.3 L444.5,788.0 L445.7,785.7 L447.0,783.3 L448.2,781.0 L449.5,778.6 L450.7,776.3 L452.0,773.9 L453.2,771.5 L454.5,769.1 L455.7,766.7 L457.0,764.4 L458.2,762.0 L459.5,759.7 L460.7,757.4 L462.0,755.1 L463.2,752.8 L464.5,750.6 L465.7,748.4 L467.0,746.2 L468.2,744.1 L469.4,742.1 L470.7,740.1 L471.9,738.2 L473.2,736.3 L474.4,734.5 L475.7,732.8 L476.9,731.2 L478.2,729.7 L479.4,728.2 L480.7,726.9 L481.9,725.6 L483.2,724.5 L484.4,723.5 L485.7,722.6 L486.9,721.8 L488.2,721.1 L489.4,720.5 L490.7,720.0 L491.9,719.7 L493.2,719.5 L494.4,719.4 L495.7,719.4 L496.9,719.6 L498.2,719.9 L499.4,720.2 L500.7,720.7 L501.9,721.3 L503.1,722.1 L504.4,722.9 L505.6,723.8 L506.9,724.8 L508.1,726.0 L509.4,727.2 L510.6,728.5 L511.9,729.9 L513.1,731.3 L514.4,732.9 L515.6,734.5 L516.9,736.2 L518.1,737.9 L519.4,739.7 L520.6,741.6 L521.9,743.5 L523.1,745.5 L524.4,747.5 L525.6,749.5 L526.9,751.6 L528.1,753.7 L529.4,755.8 L530.6,757.9 L531.9,760.1 L533.1,762.3 L534.4,764.5 L535.6,766.7 L536.8,768.9 L538.1,771.1 L539.3,773.3 L540.6,775.5 L541.8,777.7 L543.1,779.8 L544.3,782.0 L545.6,784.2 L546.8,786.3 L548.1,788.4 L549.3,790.6 L550.6,792.6 L551.8,794.7 L553.1,796.8 L554.3,798.8 L555.6,800.8 L556.8,802.7 L558.1,804.7 L559.3,806.6 L560.6,808.5 L561.8,810.3 L563.1,812.1 L564.3,813.9 L565.6,815.7 L566.8,817.4 L568.0,819.1 L569.3,820.7 L570.5,822.3 L571.8,823.9 L573.0,825.5 L574.3,827.0 L575.5,828.5 L576.8,829.9 L578.0,831.3 L579.3,832.7 L580.5,834.1 L581.8,835.4 L583.0,836.7 L584.3,837.9 L585.5,839.2 L586.8,840.3 L588.0,841.5 L589.3,842.6 L590.5,843.7 L591.8,844.8 L593.0,845.8 L594.3,846.8 L595.5,847.8 L596.8,848.8 L598.0,849.7 L599.2,850.6 L600.5,851.5 L601.7,852.3 L603.0,853.1 L604.2,853.9 L605.5,854.7 L606.7,855.4 L608.0,856.2 L609.2,856.9 L610.5,857.5 L611.7,858.2 L613.0,858.8 L614.2,859.4 L615.5,860.0 L616.7,860.6 L618.0,861.2 L619.2,861.7 L620.5,862.2 L621.7,862.7 L623.0,863.2 L624.2,863.7 L625.5,864.1 L626.7,864.6 L628.0,865.0 L629.2,865.4 L630.5,865.8 L631.7,866.2 L632.9,866.5 L634.2,866.9 L635.4,867.2 L636.7,867.5 L637.9,867.9 L639.2,868.2 L640.4,868.5 L641.7,868.7 L642.9,869.0 L644.2,869.3 L645.4,869.5 L646.7,869.8 L647.9,870.0 L649.2,870.2 L650.4,870.4 L651.7,870.6 L652.9,870.8 L654.2,871.0 L655.4,871.2 L656.7,871.4 L657.9,871.6 L659.2,871.7 L660.4,871.9 L661.7,872.0 L662.9,872.2 L664.1,872.3 L665.4,872.5 L666.6,872.6 L667.9,872.7 L669.1,872.8 L670.4,873.0 L671.6,873.1 L672.9,873.2 L674.1,873.3 L675.4,873.4 L676.6,873.5 L677.9,873.5 L679.1,873.6 L680.4,873.7 L681.6,873.8 L682.9,873.9 L684.1,873.9 L685.4,874.0 L686.6,874.1 L687.9,874.1 L689.1,874.2 L690.4,874.3 L691.6,874.3 L692.9,874.4 L694.1,874.4 L695.4,874.5 L696.6,874.5 L697.8,874.6 L699.1,874.6 L700.3,874.7 L701.6,874.7 L702.8,874.7 L704.1,874.8 L705.3,874.8 L706.6,874.8 L707.8,874.9 L709.1,874.9 L710.3,874.9 L711.6,875.0 L712.8,875.0 L714.1,875.0 L715.3,875.0 L716.6,875.1 L717.8,875.1 L719.1,875.1 L720.3,875.1 L721.6,875.1 L722.8,875.2 L724.1,875.2 L725.3,875.2 L726.6,875.2 L727.8,875.2 L729.1,875.2 L730.3,875.3 L731.5,875.3 L732.8,875.3 L734.0,875.3 L735.3,875.3 L736.5,875.3 L737.8,875.3 L739.0,875.3 L740.3,875.3 L741.5,875.4 L742.8,875.4 L744.0,875.4 L745.3,875.4 L746.5,875.4 L747.8,875.4 L749.0,875.4 L750.3,875.4 L751.5,875.4 L752.8,875.4 L754.0,875.4 L755.3,875.4 L756.5,875.4 L757.8,875.4 L759.0,875.4 L760.3,875.5 L761.5,875.5" fill="none" stroke="#000080" stroke-width="3.4" stroke-linejoin="round"/>
<path d="M112.5,875.5 L113.7,875.5 L115.0,875.5 L116.2,875.5 L117.5,875.5 L118.7,875.5 L120.0,875.5 L121.2,875.5 L122.5,875.5 L123.7,875.5 L125.0,875.5 L126.2,875.5 L127.5,875.5 L128.7,875.5 L130.0,875.5 L131.2,875.5 L132.5,875.5 L133.7,875.5 L135.0,875.5 L136.2,875.5 L137.5,875.5 L138.7,875.5 L140.0,875.5 L141.2,875.5 L142.5,875.5 L143.7,875.5 L144.9,875.5 L146.2,875.5 L147.4,875.5 L148.7,875.5 L149.9,875.5 L151.2,875.5 L152.4,875.5 L153.7,875.5 L154.9,875.5 L156.2,875.5 L157.4,875.5 L158.7,875.5 L159.9,875.5 L161.2,875.5 L162.4,875.5 L163.7,875.5 L164.9,875.5 L166.2,875.5 L167.4,875.5 L168.7,875.5 L169.9,875.5 L171.2,875.5 L172.4,875.5 L173.7,875.5 L174.9,875.5 L176.2,875.5 L177.4,875.5 L178.6,875.5 L179.9,875.5 L181.1,875.5 L182.4,875.5 L183.6,875.5 L184.9,875.5 L186.1,875.5 L187.4,875.5 L188.6,875.5 L189.9,875.5 L191.1,875.5 L192.4,875.5 L193.6,875.5 L194.9,875.5 L196.1,875.5 L197.4,875.5 L198.6,875.5 L199.9,875.5 L201.1,875.5 L202.4,875.5 L203.6,875.5 L204.9,875.5 L206.1,875.5 L207.4,875.5 L208.6,875.5 L209.9,875.5 L211.1,875.5 L212.3,875.5 L213.6,875.5 L214.8,875.5 L216.1,875.5 L217.3,875.5 L218.6,875.5 L219.8,875.5 L221.1,875.5 L222.3,875.5 L223.6,875.5 L224.8,875.5 L226.1,875.5 L227.3,875.5 L228.6,875.5 L229.8,875.5 L231.1,875.5 L232.3,875.5 L233.6,875.5 L234.8,875.5 L236.1,875.5 L237.3,875.5 L238.6,875.5 L239.8,875.5 L241.1,875.5 L242.3,875.5 L243.5,875.5 L244.8,875.5 L246.0,875.5 L247.3,875.5 L248.5,875.5 L249.8,875.5 L251.0,875.5 L252.3,875.5 L253.5,875.5 L254.8,875.5 L256.0,875.5 L257.3,875.5 L258.5,875.4 L259.8,875.4 L261.0,875.4 L262.3,875.4 L263.5,875.4 L264.8,875.4 L266.0,875.4 L267.3,875.4 L268.5,875.4 L269.8,875.4 L271.0,875.4 L272.3,875.4 L273.5,875.3 L274.8,875.3 L276.0,875.3 L277.2,875.3 L278.5,875.3 L279.7,875.3 L281.0,875.3 L282.2,875.3 L283.5,875.2 L284.7,875.2 L286.0,875.2 L287.2,875.2 L288.5,875.2 L289.7,875.1 L291.0,875.1 L292.2,875.1 L293.5,875.1 L294.7,875.0 L296.0,875.0 L297.2,875.0 L298.5,874.9 L299.7,874.9 L301.0,874.9 L302.2,874.8 L303.5,874.8 L304.7,874.8 L306.0,874.7 L307.2,874.7 L308.4,874.6 L309.7,874.6 L310.9,874.5 L312.2,874.5 L313.4,874.4 L314.7,874.4 L315.9,874.3 L317.2,874.2 L318.4,874.2 L319.7,874.1 L320.9,874.0 L322.2,874.0 L323.4,873.9 L324.7,873.8 L325.9,873.7 L327.2,873.6 L328.4,873.5 L329.7,873.4 L330.9,873.3 L332.2,873.2 L333.4,873.1 L334.7,872.9 L335.9,872.8 L337.2,872.7 L338.4,872.5 L339.6,872.4 L340.9,872.2 L342.1,872.0 L343.4,871.9 L344.6,871.7 L345.9,871.5 L347.1,871.3 L348.4,871.1 L349.6,870.9 L350.9,870.7 L352.1,870.4 L353.4,870.2 L354.6,869.9 L355.9,869.7 L357.1,869.4 L358.4,869.1 L359.6,868.8 L360.9,868.5 L362.1,868.2 L363.4,867.8 L364.6,867.5 L365.9,867.1 L367.1,866.7 L368.4,866.3 L369.6,865.9 L370.9,865.4 L372.1,865.0 L373.3,864.5 L374.6,864.0 L375.8,863.5 L377.1,863.0 L378.3,862.4 L379.6,861.9 L380.8,861.3 L382.1,860.6 L383.3,860.0 L384.6,859.3 L385.8,858.6 L387.1,857.9 L388.3,857.2 L389.6,856.4 L390.8,855.6 L392.1,854.8 L393.3,853.9 L394.6,853.1 L395.8,852.1 L397.1,851.2 L398.3,850.2 L399.6,849.2 L400.8,848.2 L402.1,847.1 L403.3,846.0 L404.6,844.8 L405.8,843.7 L407.0,842.4 L408.3,841.2 L409.5,839.9 L410.8,838.6 L412.0,837.2 L413.3,835.8 L414.5,834.3 L415.8,832.9 L417.0,831.3 L418.3,829.8 L419.5,828.2 L420.8,826.5 L422.0,824.8 L423.3,823.1 L424.5,821.3 L425.8,819.5 L427.0,817.7 L428.3,815.8 L429.5,813.9 L430.8,811.9 L432.0,809.9 L433.3,807.9 L434.5,805.8 L435.8,803.7 L437.0,801.6 L438.2,799.4 L439.5,797.2 L440.7,795.0 L442.0,792.7 L443.2,790.4 L444.5,788.1 L445.7,785.8 L447.0,783.5 L448.2,781.1 L449.5,778.7 L450.7,776.4 L452.0,774.0 L453.2,771.6 L454.5,769.2 L455.7,766.8 L457.0,764.5 L458.2,762.1 L459.5,759.7 L460.7,757.4 L462.0,755.1 L463.2,752.9 L464.5,750.6 L465.7,748.4 L467.0,746.3 L468.2,744.2 L469.4,742.1 L470.7,740.1 L471.9,738.2 L473.2,736.3 L474.4,734.6 L475.7,732.9 L476.9,731.2 L478.2,729.7 L479.4,728.3 L480.7,726.9 L481.9,725.7 L483.2,724.5 L484.4,723.5 L485.7,722.6 L486.9,721.8 L488.2,721.1 L489.4,720.5 L490.7,720.1 L491.9,719.7 L493.2,719.5 L494.4,719.4 L495.7,719.5 L496.9,719.6 L498.2,719.9 L499.4,720.2 L500.7,720.7 L501.9,721.4 L503.1,722.1 L504.4,722.9 L505.6,723.8 L506.9,724.9 L508.1,726.0 L509.4,727.2 L510.6,728.5 L511.9,729.9 L513.1,731.4 L514.4,732.9 L515.6,734.5 L516.9,736.2 L518.1,737.9 L519.4,739.8 L520.6,741.6 L521.9,743.5 L523.1,745.5 L524.4,747.5 L525.6,749.5 L526.9,751.6 L528.1,753.7 L529.4,755.8 L530.6,757.9 L531.9,760.1 L533.1,762.3 L534.4,764.5 L535.6,766.7 L536.8,768.9 L538.1,771.1 L539.3,773.3 L540.6,775.5 L541.8,777.7 L543.1,779.8 L544.3,782.0 L545.6,784.2 L546.8,786.3 L548.1,788.4 L549.3,790.6 L550.6,792.6 L551.8,794.7 L553.1,796.8 L554.3,798.8 L555.6,800.8 L556.8,802.7 L558.1,804.7 L559.3,806.6 L560.6,808.5 L561.8,810.3 L563.1,812.1 L564.3,813.9 L565.6,815.7 L566.8,817.4 L568.0,819.1 L569.3,820.7 L570.5,822.3 L571.8,823.9 L573.0,825.5 L574.3,827.0 L575.5,828.5 L576.8,829.9 L578.0,831.3 L579.3,832.7 L580.5,834.1 L581.8,835.4 L583.0,836.7 L584.3,837.9 L585.5,839.2 L586.8,840.3 L588.0,841.5 L589.3,842.6 L590.5,843.7 L591.8,844.8 L593.0,845.8 L594.3,846.8 L595.5,847.8 L596.8,848.8 L598.0,849.7 L599.2,850.6 L600.5,851.5 L601.7,852.3 L603.0,853.1 L604.2,853.9 L605.5,854.7 L606.7,855.4 L608.0,856.2 L609.2,856.9 L610.5,857.5 L611.7,858.2 L613.0,858.8 L614.2,859.4 L615.5,860.0 L616.7,860.6 L618.0,861.2 L619.2,861.7 L620.5,862.2 L621.7,862.7 L623.0,863.2 L624.2,863.7 L625.5,864.1 L626.7,864.6 L628.0,865.0 L629.2,865.4 L630.5,865.8 L631.7,866.2 L632.9,866.5 L634.2,866.9 L635.4,867.2 L636.7,867.5 L637.9,867.9 L639.2,868.2 L640.4,868.5 L641.7,868.7 L642.9,869.0 L644.2,869.3 L645.4,869.5 L646.7,869.8 L647.9,870.0 L649.2,870.2 L650.4,870.4 L651.7,870.6 L652.9,870.8 L654.2,871.0 L655.4,871.2 L656.7,871.4 L657.9,871.6 L659.2,871.7 L660.4,871.9 L661.7,872.0 L662.9,872.2 L664.1,872.3 L665.4,872.5 L666.6,872.6 L667.9,872.7 L669.1,872.8 L670.4,873.0 L671.6,873.1 L672.9,873.2 L674.1,873.3 L675.4,873.4 L676.6,873.5 L677.9,873.5 L679.1,873.6 L680.4,873.7 L681.6,873.8 L682.9,873.9 L684.1,873.9 L685.4,874.0 L686.6,874.1 L687.9,874.1 L689.1,874.2 L690.4,874.3 L691.6,874.3 L692.9,874.4 L694.1,874.4 L695.4,874.5 L696.6,874.5 L697.8,874.6 L699.1,874.6 L700.3,874.7 L701.6,874.7 L702.8,874.7 L704.1,874.8 L705.3,874.8 L706.6,874.8 L707.8,874.9 L709.1,874.9 L710.3,874.9 L711.6,875.0 L712.8,875.0 L714.1,875.0 L715.3,875.0 L716.6,875.1 L717.8,875.1 L719.1,875.1 L720.3,875.1 L721.6,875.1 L722.8,875.2 L724.1,875.2 L725.3,875.2 L726.6,875.2 L727.8,875.2 L729.1,875.2 L730.3,875.3 L731.5,875.3 L732.8,875.3 L734.0,875.3 L735.3,875.3 L736.5,875.3 L737.8,875.3 L739.0,875.3 L740.3,875.3 L741.5,875.4 L742.8,875.4 L744.0,875.4 L745.3,875.4 L746.5,875.4 L747.8,875.4 L749.0,875.4 L750.3,875.4 L751.5,875.4 L752.8,875.4 L754.0,875.4 L755.3,875.4 L756.5,875.4 L757.8,875.4 L759.0,875.4 L760.3,875.5 L761.5,875.5 L761.5,875.5 L112.5,875.5 Z" fill="url(#hr)" stroke="none"/>
<path d="M112.5,875.5 L113.7,875.5 L115.0,875.5 L116.2,875.5 L117.5,875.5 L118.7,875.5 L120.0,875.5 L121.2,875.5 L122.5,875.5 L123.7,875.5 L125.0,875.5 L126.2,875.5 L127.5,875.5 L128.7,875.5 L130.0,875.5 L131.2,875.5 L132.5,875.5 L133.7,875.5 L135.0,875.5 L136.2,875.5 L137.5,875.5 L138.7,875.5 L140.0,875.5 L141.2,875.5 L142.5,875.5 L143.7,875.5 L144.9,875.5 L146.2,875.5 L147.4,875.5 L148.7,875.5 L149.9,875.5 L151.2,875.5 L152.4,875.5 L153.7,875.5 L154.9,875.5 L156.2,875.5 L157.4,875.5 L158.7,875.5 L159.9,875.5 L161.2,875.5 L162.4,875.5 L163.7,875.5 L164.9,875.5 L166.2,875.5 L167.4,875.5 L168.7,875.5 L169.9,875.5 L171.2,875.5 L172.4,875.5 L173.7,875.5 L174.9,875.5 L176.2,875.5 L177.4,875.5 L178.6,875.5 L179.9,875.5 L181.1,875.5 L182.4,875.5 L183.6,875.5 L184.9,875.5 L186.1,875.5 L187.4,875.5 L188.6,875.5 L189.9,875.5 L191.1,875.5 L192.4,875.5 L193.6,875.5 L194.9,875.5 L196.1,875.5 L197.4,875.5 L198.6,875.5 L199.9,875.5 L201.1,875.5 L202.4,875.5 L203.6,875.5 L204.9,875.5 L206.1,875.5 L207.4,875.5 L208.6,875.5 L209.9,875.5 L211.1,875.5 L212.3,875.5 L213.6,875.5 L214.8,875.5 L216.1,875.5 L217.3,875.5 L218.6,875.5 L219.8,875.5 L221.1,875.5 L222.3,875.5 L223.6,875.5 L224.8,875.5 L226.1,875.5 L227.3,875.5 L228.6,875.5 L229.8,875.5 L231.1,875.5 L232.3,875.5 L233.6,875.5 L234.8,875.5 L236.1,875.5 L237.3,875.5 L238.6,875.5 L239.8,875.5 L241.1,875.5 L242.3,875.5 L243.5,875.5 L244.8,875.5 L246.0,875.5 L247.3,875.5 L248.5,875.5 L249.8,875.5 L251.0,875.5 L252.3,875.5 L253.5,875.5 L254.8,875.5 L256.0,875.5 L257.3,875.5 L258.5,875.4 L259.8,875.4 L261.0,875.4 L262.3,875.4 L263.5,875.4 L264.8,875.4 L266.0,875.4 L267.3,875.4 L268.5,875.4 L269.8,875.4 L271.0,875.4 L272.3,875.4 L273.5,875.3 L274.8,875.3 L276.0,875.3 L277.2,875.3 L278.5,875.3 L279.7,875.3 L281.0,875.3 L282.2,875.3 L283.5,875.2 L284.7,875.2 L286.0,875.2 L287.2,875.2 L288.5,875.2 L289.7,875.1 L291.0,875.1 L292.2,875.1 L293.5,875.1 L294.7,875.0 L296.0,875.0 L297.2,875.0 L298.5,874.9 L299.7,874.9 L301.0,874.9 L302.2,874.8 L303.5,874.8 L304.7,874.8 L306.0,874.7 L307.2,874.7 L308.4,874.6 L309.7,874.6 L310.9,874.5 L312.2,874.5 L313.4,874.4 L314.7,874.4 L315.9,874.3 L317.2,874.2 L318.4,874.2 L319.7,874.1 L320.9,874.0 L322.2,874.0 L323.4,873.9 L324.7,873.8 L325.9,873.7 L327.2,873.6 L328.4,873.5 L329.7,873.4 L330.9,873.3 L332.2,873.2 L333.4,873.1 L334.7,872.9 L335.9,872.8 L337.2,872.7 L338.4,872.5 L339.6,872.4 L340.9,872.2 L342.1,872.0 L343.4,871.9 L344.6,871.7 L345.9,871.5 L347.1,871.3 L348.4,871.1 L349.6,870.9 L350.9,870.7 L352.1,870.4 L353.4,870.2 L354.6,869.9 L355.9,869.7 L357.1,869.4 L358.4,869.1 L359.6,868.8 L360.9,868.5 L362.1,868.2 L363.4,867.8 L364.6,867.5 L365.9,867.1 L367.1,866.7 L368.4,866.3 L369.6,865.9 L370.9,865.4 L372.1,865.0 L373.3,864.5 L374.6,864.0 L375.8,863.5 L377.1,863.0 L378.3,862.4 L379.6,861.9 L380.8,861.3 L382.1,860.6 L383.3,860.0 L384.6,859.3 L385.8,858.6 L387.1,857.9 L388.3,857.2 L389.6,856.4 L390.8,855.6 L392.1,854.8 L393.3,853.9 L394.6,853.1 L395.8,852.1 L397.1,851.2 L398.3,850.2 L399.6,849.2 L400.8,848.2 L402.1,847.1 L403.3,846.0 L404.6,844.8 L405.8,843.7 L407.0,842.4 L408.3,841.2 L409.5,839.9 L410.8,838.6 L412.0,837.2 L413.3,835.8 L414.5,834.3 L415.8,832.9 L417.0,831.3 L418.3,829.8 L419.5,828.2 L420.8,826.5 L422.0,824.8 L423.3,823.1 L424.5,821.3 L425.8,819.5 L427.0,817.7 L428.3,815.8 L429.5,813.9 L430.8,811.9 L432.0,809.9 L433.3,807.9 L434.5,805.8 L435.8,803.7 L437.0,801.6 L438.2,799.4 L439.5,797.2 L440.7,795.0 L442.0,792.7 L443.2,790.4 L444.5,788.1 L445.7,785.8 L447.0,783.5 L448.2,781.1 L449.5,778.7 L450.7,776.4 L452.0,774.0 L453.2,771.6 L454.5,769.2 L455.7,766.8 L457.0,764.5 L458.2,762.1 L459.5,759.7 L460.7,757.4 L462.0,755.1 L463.2,752.9 L464.5,750.6 L465.7,748.4 L467.0,746.3 L468.2,744.2 L469.4,742.1 L470.7,740.1 L471.9,738.2 L473.2,736.3 L474.4,734.6 L475.7,732.9 L476.9,731.2 L478.2,729.7 L479.4,728.3 L480.7,726.9 L481.9,725.7 L483.2,724.5 L484.4,723.5 L485.7,722.6 L486.9,721.8 L488.2,721.1 L489.4,720.5 L490.7,720.1 L491.9,719.7 L493.2,719.5 L494.4,719.4 L495.7,719.5 L496.9,719.6 L498.2,719.9 L499.4,720.2 L500.7,720.7 L501.9,721.4 L503.1,722.1 L504.4,722.9 L505.6,723.8 L506.9,724.9 L508.1,726.0 L509.4,727.2 L510.6,728.5 L511.9,729.9 L513.1,731.4 L514.4,732.9 L515.6,734.5 L516.9,736.2 L518.1,737.9 L519.4,739.8 L520.6,741.6 L521.9,743.5 L523.1,745.5 L524.4,747.5 L525.6,749.5 L526.9,751.6 L528.1,753.7 L529.4,755.8 L530.6,757.9 L531.9,760.1 L533.1,762.3 L534.4,764.5 L535.6,766.7 L536.8,768.9 L538.1,771.1 L539.3,773.3 L540.6,775.5 L541.8,777.7 L543.1,779.8 L544.3,782.0 L545.6,784.2 L546.8,786.3 L548.1,788.4 L549.3,790.6 L550.6,792.6 L551.8,794.7 L553.1,796.8 L554.3,798.8 L555.6,800.8 L556.8,802.7 L558.1,804.7 L559.3,806.6 L560.6,808.5 L561.8,810.3 L563.1,812.1 L564.3,813.9 L565.6,815.7 L566.8,817.4 L568.0,819.1 L569.3,820.7 L570.5,822.3 L571.8,823.9 L573.0,825.5 L574.3,827.0 L575.5,828.5 L576.8,829.9 L578.0,831.3 L579.3,832.7 L580.5,834.1 L581.8,835.4 L583.0,836.7 L584.3,837.9 L585.5,839.2 L586.8,840.3 L588.0,841.5 L589.3,842.6 L590.5,843.7 L591.8,844.8 L593.0,845.8 L594.3,846.8 L595.5,847.8 L596.8,848.8 L598.0,849.7 L599.2,850.6 L600.5,851.5 L601.7,852.3 L603.0,853.1 L604.2,853.9 L605.5,854.7 L606.7,855.4 L608.0,856.2 L609.2,856.9 L610.5,857.5 L611.7,858.2 L613.0,858.8 L614.2,859.4 L615.5,860.0 L616.7,860.6 L618.0,861.2 L619.2,861.7 L620.5,862.2 L621.7,862.7 L623.0,863.2 L624.2,863.7 L625.5,864.1 L626.7,864.6 L628.0,865.0 L629.2,865.4 L630.5,865.8 L631.7,866.2 L632.9,866.5 L634.2,866.9 L635.4,867.2 L636.7,867.5 L637.9,867.9 L639.2,868.2 L640.4,868.5 L641.7,868.7 L642.9,869.0 L644.2,869.3 L645.4,869.5 L646.7,869.8 L647.9,870.0 L649.2,870.2 L650.4,870.4 L651.7,870.6 L652.9,870.8 L654.2,871.0 L655.4,871.2 L656.7,871.4 L657.9,871.6 L659.2,871.7 L660.4,871.9 L661.7,872.0 L662.9,872.2 L664.1,872.3 L665.4,872.5 L666.6,872.6 L667.9,872.7 L669.1,872.8 L670.4,873.0 L671.6,873.1 L672.9,873.2 L674.1,873.3 L675.4,873.4 L676.6,873.5 L677.9,873.5 L679.1,873.6 L680.4,873.7 L681.6,873.8 L682.9,873.9 L684.1,873.9 L685.4,874.0 L686.6,874.1 L687.9,874.1 L689.1,874.2 L690.4,874.3 L691.6,874.3 L692.9,874.4 L694.1,874.4 L695.4,874.5 L696.6,874.5 L697.8,874.6 L699.1,874.6 L700.3,874.7 L701.6,874.7 L702.8,874.7 L704.1,874.8 L705.3,874.8 L706.6,874.8 L707.8,874.9 L709.1,874.9 L710.3,874.9 L711.6,875.0 L712.8,875.0 L714.1,875.0 L715.3,875.0 L716.6,875.1 L717.8,875.1 L719.1,875.1 L720.3,875.1 L721.6,875.1 L722.8,875.2 L724.1,875.2 L725.3,875.2 L726.6,875.2 L727.8,875.2 L729.1,875.2 L730.3,875.3 L731.5,875.3 L732.8,875.3 L734.0,875.3 L735.3,875.3 L736.5,875.3 L737.8,875.3 L739.0,875.3 L740.3,875.3 L741.5,875.4 L742.8,875.4 L744.0,875.4 L745.3,875.4 L746.5,875.4 L747.8,875.4 L749.0,875.4 L750.3,875.4 L751.5,875.4 L752.8,875.4 L754.0,875.4 L755.3,875.4 L756.5,875.4 L757.8,875.4 L759.0,875.4 L760.3,875.5 L761.5,875.5" fill="none" stroke="#ff0000" stroke-width="4" stroke-linejoin="round"/>
<rect class="fr" x="112.5" y="553.4" width="649.0" height="322.0"/>
<text transform="translate(116.1,914.9) scale(1,1.05)" text-anchor="middle">0</text>
<text transform="translate(215.9,914.9) scale(1,1.05)" text-anchor="middle">2</text>
<text transform="translate(315.8,914.9) scale(1,1.05)" text-anchor="middle">4</text>
<text transform="translate(415.6,914.9) scale(1,1.05)" text-anchor="middle">6</text>
<text transform="translate(515.5,914.9) scale(1,1.05)" text-anchor="middle">8</text>
<text transform="translate(616.1,914.9) scale(1,1.05)" text-anchor="middle">10</text>
<text transform="translate(716.0,914.9) scale(1,1.05)" text-anchor="middle">12</text>
<text transform="translate(95.0,886) scale(1,1.05)" text-anchor="end">0</text>
<text transform="translate(94.3,805) scale(1,1.05)" text-anchor="end">0.1</text>
<text transform="translate(94.3,724) scale(1,1.05)" text-anchor="end">0.2</text>
<text transform="translate(94.3,644) scale(1,1.05)" text-anchor="end">0.3</text>
<text transform="translate(94.3,563) scale(1,1.05)" text-anchor="end">0.4</text>
<!-- legend bottom -->
<rect x="692.5" y="570" width="35.5" height="23.8" fill="#000080"/>
<rect x="693.9" y="614.5" width="33.1" height="21.6" fill="url(#lr)" stroke="#ff0000" stroke-width="3.6"/>
<text transform="translate(562.7,591.2) scale(1,1.01)" text-anchor="end"><tspan class="it">I</tspan> (</text>
<text transform="translate(578.6,591.2) scale(1,1.01)" text-anchor="end" class="rho">ρ</text>
<text transform="translate(578.6,599.6) scale(1,1.01)" class="sm">2</text>
<text transform="translate(641.2,577.0) scale(1,1.01)" class="sm" text-anchor="end">SD,<tspan class="gk" letter-spacing="0.5">αβ</tspan></text>
<text transform="translate(676,591.2) scale(1,1.01)" text-anchor="end">, <tspan class="it">s</tspan>)</text>
<text transform="translate(560.9,634.5) scale(1,1.01)" text-anchor="end"><tspan class="it">I</tspan> (</text>
<text transform="translate(576.8,634.5) scale(1,1.01)" text-anchor="end" class="rho">ρ</text>
<text transform="translate(576.8,642.9) scale(1,1.01)" class="sm">2</text>
<text transform="translate(641.2,620.3) scale(1,1.01)" class="sm" text-anchor="end">SD,<tspan class="gk" letter-spacing="0.9">αα</tspan></text>
<text transform="translate(676,634.5) scale(1,1.01)" text-anchor="end">, <tspan class="it">s</tspan>)</text>
<!-- arrows -->
<g stroke="#000" stroke-width="2.5" fill="none">
<path d="M112.5,932.2 H362.1"/>
<path d="M362.1,932.2 H712.1"/>
</g>
<g fill="#000" stroke="#000" stroke-width="2.2" stroke-linejoin="round">
<path d="M113.3,932.2 l14,-4.3 v8.6 z"/>
<path d="M361.1,932.2 l-13.6,-4.3 v8.6 z"/>
<path d="M363.1,932.2 l13.6,-4.3 v8.6 z"/>
<path d="M711.6,932.2 l-14,-4.3 v8.6 z"/>
</g>
<text transform="translate(245.2,958.3) scale(1,1.04)" text-anchor="middle">SR</text>
<text transform="translate(540.3,958.3) scale(1,1.04)" text-anchor="middle">LR</text>
<text transform="translate(437.4,987) scale(1,1.04)" text-anchor="middle"><tspan class="it">s</tspan> (a.u.)</text>
</svg>
</body></html>
